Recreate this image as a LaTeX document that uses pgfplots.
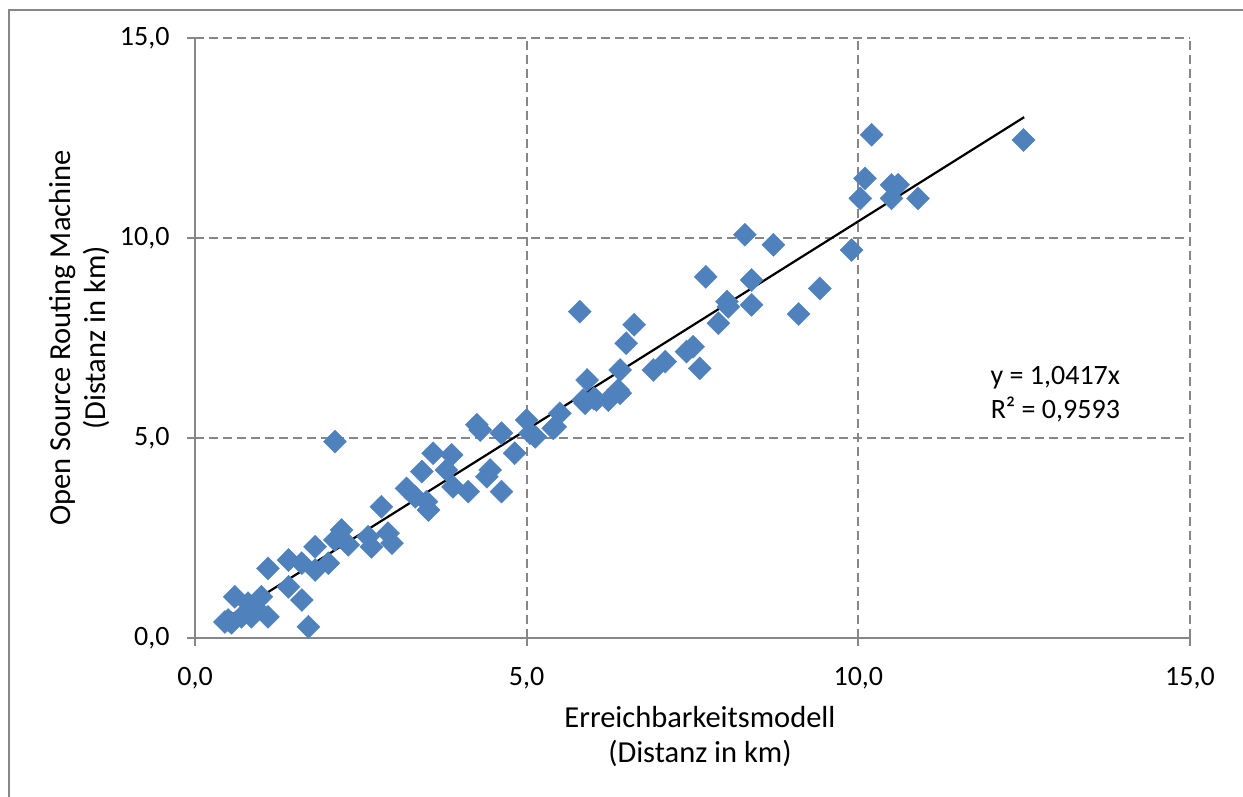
\documentclass[border=0pt]{standalone}
\usepackage{pgfplots}
\pgfplotsset{compat=1.18}
\usepackage{fontspec}
\setmainfont{Carlito}
\definecolor{ptblue}{HTML}{4F81BD}
\definecolor{gridgray}{HTML}{878787}
\pgfplotstableread{
x y
0.45 0.40
0.50 0.45
0.55 0.38
0.60 1.03
0.70 0.53
0.80 0.87
0.85 0.53
0.90 0.78
1.00 1.03
1.10 0.53
1.10 1.74
1.41 1.95
1.41 1.28
1.61 1.87
1.61 0.95
1.71 0.28
1.81 1.70
1.81 2.28
2.01 1.87
2.11 4.91
2.11 2.45
2.21 2.70
2.31 2.33
2.61 2.53
2.66 2.28
2.81 3.28
2.91 2.62
2.97 2.37
3.19 3.74
3.32 3.53
3.42 4.16
3.49 3.41
3.52 3.20
3.59 4.62
3.79 4.20
3.87 4.58
3.89 3.78
4.12 3.66
4.25 5.33
4.30 5.20
4.40 4.03
4.45 4.20
4.62 5.12
4.62 3.66
4.82 4.62
5.00 5.45
5.05 5.12
5.13 5.03
5.40 5.24
5.43 5.28
5.50 5.62
5.80 8.16
5.85 5.95
5.88 5.87
5.91 6.45
6.01 5.99
6.05 5.95
6.23 5.95
6.38 6.20
6.41 6.12
6.41 6.70
6.50 7.37
6.62 7.83
6.91 6.70
7.09 6.91
7.41 7.16
7.51 7.28
7.61 6.74
7.70 9.03
7.89 7.87
8.02 8.41
8.04 8.28
8.29 10.08
8.39 8.95
8.39 8.33
8.72 9.83
9.10 8.10
9.42 8.74
9.90 9.70
10.03 10.99
10.10 11.49
10.20 12.58
10.50 11.33
10.60 11.33
10.50 10.99
10.90 10.99
12.49 12.45
}\datatable
\begin{document}
\fontsize{28}{34}\selectfont
\begin{tikzpicture}
\path[use as bounding box] (-195pt,-158pt) rectangle (1048pt,638pt);
\draw[gridgray, line width=1.6pt] (-186pt,-170pt) -- (-186pt,628pt) -- (1060pt,628pt);
\begin{axis}[
  at={(0pt,0pt)}, anchor=south west,
  scale only axis, width=995pt, height=600pt,
  xmin=0, xmax=15, ymin=0, ymax=15,
  xtick={0,5,10,15}, ytick={0,5,10,15},
  axis x line*=bottom, axis y line*=left,
  axis line style={gridgray, line width=1.8pt},
  tick align=outside, major tick length=8pt,
  tick style={gridgray, line width=1.8pt},
  grid=major,
  major grid style={gridgray, line width=1.8pt, dash pattern=on 9pt off 5pt},
  /pgf/number format/.cd, fixed, fixed zerofill, precision=1, use comma, assume math mode=true,
  /pgfplots/.cd,
  ticklabel style={font=\fontsize{28}{34}\selectfont},
  xticklabel style={yshift=-12pt},
  yticklabel style={xshift=-8pt},
  clip=false,
]
\addplot[only marks, mark=diamond*, mark size=11.5pt,
  mark options={xscale=1.333, draw=ptblue, fill=ptblue}] table[x=x,y=y] {\datatable};
\addplot[black, line width=2.2pt, no marks] coordinates {(0.5,0.5209) (12.5,13.021)};
\node[align=center] at (axis cs:12.97,6.1) {y = 1,0417x\\R² = 0,9593};
\node[align=center, font=\fontsize{30.5}{35}\selectfont] at ([yshift=-99pt]rel axis cs:0.5075,0) {Erreichbarkeitsmodell\\(Distanz in km)};
\node[rotate=90, align=center, font=\fontsize{30.5}{35}\selectfont] at ([xshift=-115pt]rel axis cs:0,0.5) {Open Source Routing Machine\\(Distanz in km)};
\end{axis}
\end{tikzpicture}
\end{document}
